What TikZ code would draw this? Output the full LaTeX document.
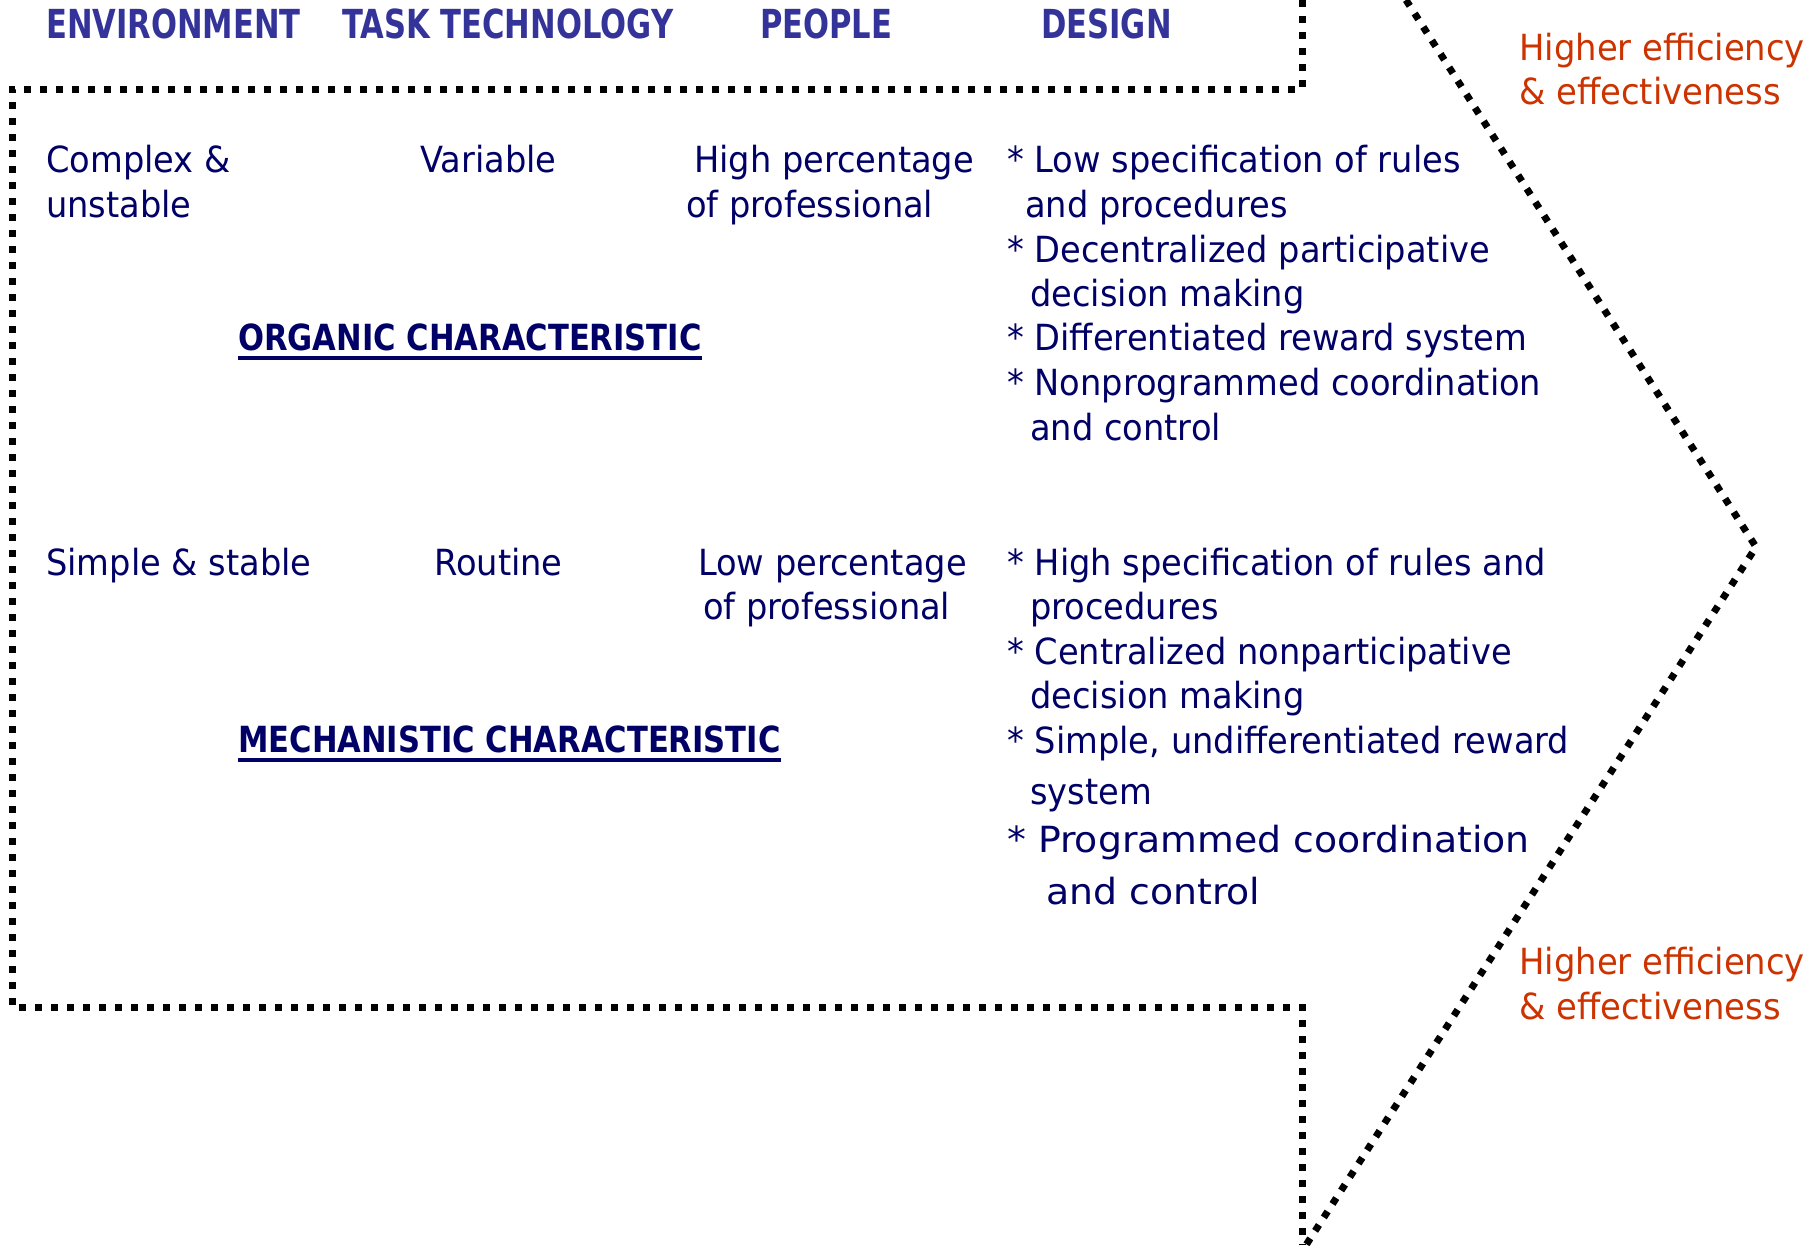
\documentclass[tikz,border=0pt]{standalone}
\usepackage{fontspec}
\setmainfont{DejaVu Sans}
\newfontfamily\bodyfont{DejaVu Sans}[FakeStretch=0.935]
\newfontfamily\redfont{DejaVu Sans}[FakeStretch=0.94]
\newfontfamily\bigfont{DejaVu Sans}[FakeStretch=1.05]
\newfontfamily\headfont{DejaVu Sans}[FakeStretch=0.765]
\newfontfamily\titlefont{DejaVu Sans}[FakeStretch=0.85]

\definecolor{headblue}{RGB}{51,51,153}
\definecolor{navy}{RGB}{0,0,102}
\definecolor{rust}{RGB}{204,51,0}

\begin{document}
\begin{tikzpicture}[x=1pt,y=-1pt,
  txt/.style={anchor=base west,inner sep=0pt,text=navy,
    font=\bodyfont\fontsize{36}{45}\selectfont},
  bigtxt/.style={txt,font=\bigfont\fontsize{36}{45}\selectfont},
  head/.style={anchor=base west,inner sep=0pt,text=headblue,
    font=\headfont\bfseries\fontsize{40}{45}\selectfont},
  title/.style={anchor=base west,inner sep=0pt,text=navy,
    font=\titlefont\bfseries\fontsize{36}{40}\selectfont},
  gain/.style={anchor=base west,inner sep=0pt,text=rust,
    font=\redfont\fontsize{36}{45}\selectfont},
  outline/.style={line width=7pt,dash pattern=on 7pt off 9pt,line cap=butt},
  uline/.style={navy,line width=3.5pt}]

\useasboundingbox (0,0) rectangle (1814,1245);

% dotted arrow outline
\draw[outline] (1302,0) -- (1302,89) -- (12,89) -- (12,1007) -- (1302,1007) -- (1302,1245);
\draw[outline] (1406,0) -- (1756,547) -- (1306,1245);

% column headings
\node[head] (hEnv)    at (46,38)   {ENVIRONMENT};
\node[head] (hTask)   at (342,38)  {TASK TECHNOLOGY};
\node[head] (hPeople) at (760,38)  {PEOPLE};
\node[head] (hDesign) at (1041,38) {DESIGN};

% organic row
\node[txt] (oEnv1)  at (46,172)  {Complex \&};
\node[txt] (oEnv2)  at (46,217)  {unstable};
\node[txt] (oTask)  at (420,172) {Variable};
\node[txt] (oPeo1)  at (694,172) {High percentage};
\node[txt] (oPeo2)  at (686,217) {of professional};
\node[txt] (oD1)    at (1007,172) {* Low specification of rules};
\node[txt] (oD1b)   at (1025,217) {and procedures};
\node[txt] (oD2)    at (1007,262) {* Decentralized participative};
\node[txt] (oD2b)   at (1030,306) {decision making};
\node[txt] (oD3)    at (1007,350) {* Differentiated reward system};
\node[txt] (oD4)    at (1007,395) {* Nonprogrammed coordination};
\node[txt] (oD4b)   at (1030,440) {and control};
\node[title] (oTitle) at (238,350) {ORGANIC CHARACTERISTIC};
\draw[uline] ([yshift=-8pt]oTitle.base west) -- ([yshift=-8pt]oTitle.base east);

% mechanistic row
\node[txt] (mEnv)   at (46,575)  {Simple \& stable};
\node[txt] (mTask)  at (434,575) {Routine};
\node[txt] (mPeo1)  at (698,575) {Low percentage};
\node[txt] (mPeo2)  at (703,619) {of professional};
\node[txt] (mD1)    at (1007,575) {* High specification of rules and};
\node[txt] (mD1b)   at (1030,619) {procedures};
\node[txt] (mD2)    at (1007,664) {* Centralized nonparticipative};
\node[txt] (mD2b)   at (1030,708) {decision making};
\node[txt] (mD3)    at (1007,753) {* Simple, undifferentiated reward};
\node[txt] (mD3b)   at (1030,804) {system};
\node[bigtxt] (mD4)  at (1007,852) {* Programmed coordination};
\node[bigtxt] (mD4b) at (1046,904) {and control};
\node[title] (mTitle) at (238,752) {MECHANISTIC CHARACTERISTIC};
\draw[uline] ([yshift=-8pt]mTitle.base west) -- ([yshift=-8pt]mTitle.base east);

% outcome labels
\node[gain] (g1a) at (1519,60)   {Higher efficiency};
\node[gain] (g1b) at (1519,104)  {\& effectiveness};
\node[gain] (g2a) at (1519,974)  {Higher efficiency};
\node[gain] (g2b) at (1519,1019) {\& effectiveness};
\end{tikzpicture}
\end{document}
